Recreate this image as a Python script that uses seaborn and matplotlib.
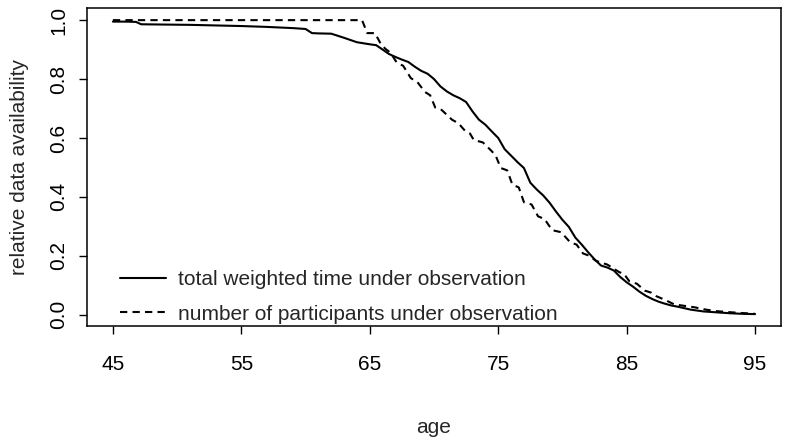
import numpy as np
import pandas as pd
import matplotlib.pyplot as plt
import seaborn as sns

# total weighted time under observation (relative)
age_time = [45, 46, 46.8, 47.2, 49, 51, 53, 55, 57, 58, 59, 60, 60.5, 61, 62, 63, 64, 65, 65.5,
            66, 66.5, 67, 67.5, 68, 68.5, 69, 69.5, 70, 70.5, 71, 71.5, 72, 72.5, 73, 73.5,
            74, 74.5, 75, 75.5, 76, 76.5, 77, 77.5, 78, 78.5, 79, 79.5, 80, 80.5, 81, 81.5,
            82, 82.5, 83, 83.5, 84, 84.5, 85, 85.5, 86, 86.5, 87, 87.5, 88, 88.5, 89, 90,
            91, 92, 93, 94, 95]
time_avail = [0.995, 0.995, 0.994, 0.986, 0.985, 0.984, 0.982, 0.980, 0.977, 0.975, 0.973, 0.970,
              0.956, 0.955, 0.954, 0.940, 0.925, 0.918, 0.915, 0.900, 0.885, 0.875, 0.866,
              0.858, 0.842, 0.828, 0.818, 0.800, 0.775, 0.758, 0.745, 0.735, 0.722, 0.690,
              0.662, 0.645, 0.622, 0.600, 0.562, 0.540, 0.518, 0.498, 0.448, 0.425, 0.405,
              0.380, 0.350, 0.322, 0.298, 0.262, 0.238, 0.212, 0.188, 0.167, 0.160, 0.150,
              0.128, 0.110, 0.095, 0.078, 0.064, 0.053, 0.044, 0.037, 0.031, 0.027, 0.017,
              0.011, 0.008, 0.005, 0.003, 0.002]

# number of participants under observation (relative)
age_part = [45, 64.4, 64.8, 65.4, 65.8, 66.2, 66.6, 67.1, 67.6, 68.2, 68.7, 69.3, 69.7, 70.1,
            70.6, 71.4, 71.9, 72.4, 72.8, 73.1, 73.8, 74.5, 74.8, 75.2, 75.7, 76.1, 76.6,
            77.0, 77.6, 78.1, 78.6, 79.2, 79.9, 80.6, 81.1, 81.6, 82.1, 82.6, 83.5, 84.4,
            84.8, 85.2, 85.8, 86.4, 86.9, 87.3, 88.0, 88.7, 89.5, 90.3, 91.2, 92.0, 93.5, 95]
part_avail = [1.0, 1.0, 0.956, 0.956, 0.924, 0.903, 0.890, 0.856, 0.845, 0.803, 0.790, 0.756,
              0.745, 0.703, 0.695, 0.662, 0.650, 0.625, 0.615, 0.593, 0.585, 0.555, 0.540,
              0.498, 0.490, 0.442, 0.432, 0.382, 0.374, 0.334, 0.325, 0.287, 0.280, 0.246,
              0.238, 0.208, 0.200, 0.183, 0.170, 0.145, 0.138, 0.114, 0.105, 0.082, 0.075,
              0.063, 0.050, 0.035, 0.030, 0.025, 0.017, 0.012, 0.007, 0.003]

x_ticks = [45, 55, 65, 75, 85, 95]
y_ticks = [0.0, 0.2, 0.4, 0.6, 0.8, 1.0]

sns.set_style('ticks')
plt.rcParams['font.family'] = ['Liberation Sans', 'DejaVu Sans']
fs = 15

fig, ax = plt.subplots(figsize=(8, 4.4), dpi=100)
fig.subplots_adjust(left=0.109, right=0.976, bottom=0.258, top=0.981)

# las dos curvas, negra continua y negra discontinua
sns.lineplot(x=age_time, y=time_avail, ax=ax, color='black', lw=1.5,
             estimator=None, sort=True, label='total weighted time under observation')
sns.lineplot(x=age_part, y=part_avail, ax=ax, color='black', lw=1.5,
             estimator=None, sort=True, label='number of participants under observation')
ax.lines[1].set_dashes((3.5, 2.5))

ax.set_xlim(43, 97)
ax.set_ylim(-0.04, 1.04)
ax.set_xticks(x_ticks)
ax.set_yticks(y_ticks)
ax.set_yticklabels([f'{v:.1f}' for v in y_ticks], rotation=90, va='center')
ax.tick_params(axis='both', direction='out', length=5.5, width=1, colors='black',
               labelsize=fs)
ax.tick_params(axis='x', pad=15)
ax.tick_params(axis='y', pad=8)
for s in ax.spines.values():
    s.set_visible(True)
    s.set_linewidth(1.1)
    s.set_color('black')

ax.set_xlabel('age', fontsize=fs, labelpad=32)
ax.set_ylabel('relative data availability', fontsize=fs, labelpad=15)

leg = ax.legend(loc='lower left', bbox_to_anchor=(0.02, -0.05), frameon=False,
                handlelength=2.2, handletextpad=0.6, labelspacing=0.75, fontsize=fs)
leg.get_lines()[1].set_dashes((3.5, 2.5))

fig.savefig('out.png', dpi=100)
